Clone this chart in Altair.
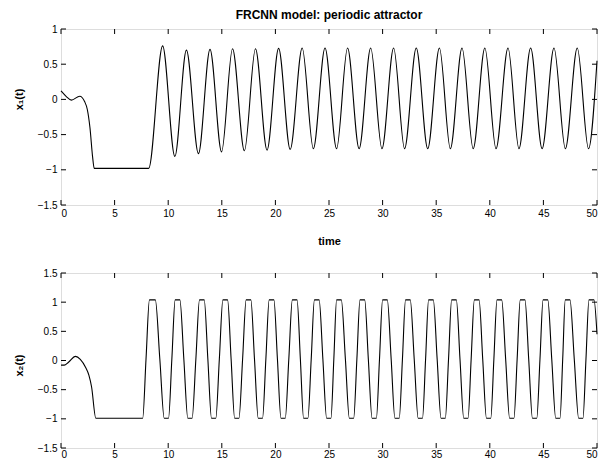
import altair as alt
import pandas as pd

TITLE = "FRCNN model: periodic attractor"
X_LABEL = "time"
Y1_LABEL = "x\u2081(t)"
Y2_LABEL = "x\u2082(t)"

x_ticks = [0, 5, 10, 15, 20, 25, 30, 35, 40, 45, 50]
y1_ticks = [-1.5, -1, -0.5, 0, 0.5, 1]
y2_ticks = [-1.5, -1, -0.5, 0, 0.5, 1, 1.5]

# x1(t): initial transient, flat saturation, then peaks / troughs
t1 = [0, 0.5, 0.97, 1.75, 2.2, 2.45, 2.7, 2.95, 3.1, 8.18,
      9.48, 10.62, 11.70, 12.82, 13.90, 14.98, 16.00, 17.11, 18.14, 19.22,
      20.30, 21.38, 22.50, 23.54, 24.63, 25.71, 26.73, 27.81, 28.89, 29.94,
      31.03, 32.05, 33.14, 34.21, 35.30, 36.32, 37.41, 38.45, 39.54, 40.58,
      41.70, 42.72, 43.81, 44.88, 45.99, 47.05, 48.16, 49.21, 50.0]
x1 = [0.12, 0.04, -0.01, 0.045, -0.03, -0.14, -0.40, -0.82, -0.98, -0.98,
      0.76, -0.81, 0.70, -0.77, 0.71, -0.745, 0.72, -0.73, 0.72, -0.72,
      0.725, -0.71, 0.73, -0.70, 0.73, -0.70, 0.73, -0.70, 0.73, -0.70,
      0.73, -0.70, 0.73, -0.70, 0.73, -0.70, 0.73, -0.70, 0.73, -0.70,
      0.73, -0.70, 0.73, -0.70, 0.73, -0.70, 0.73, -0.70, 0.55]

# x2(t): initial transient and flat saturation
t2_init = [0, 0.3, 0.7, 1.35, 1.8, 2.3, 2.6, 2.85, 3.25, 7.62]
x2_init = [-0.08, -0.08, -0.03, 0.07, 0.02, -0.12, -0.25, -0.45, -0.99, -0.99]
# x2(t): oscillation read as plateau edges and mid crossings
x2_high = 1.04
x2_low = -0.99
x2_mid = 0.02
x2_top_edges = [8.25, 8.80, 10.65, 11.09, 12.92, 13.36, 15.10, 15.54,
                17.27, 17.71, 19.42, 19.86, 21.58, 22.02, 23.64, 24.08,
                25.71, 26.15, 27.89, 28.33, 30.00, 30.44, 32.14, 32.58,
                34.29, 34.73, 36.44, 36.88, 38.56, 39.00, 40.67, 41.11,
                42.84, 43.28, 44.97, 45.41, 47.04, 47.48, 49.25, 49.72]
x2_bottom_edges = [9.63, 10.03, 11.83, 12.23, 14.04, 14.44, 16.20, 16.60,
                   18.40, 18.80, 20.52, 20.92, 22.63, 23.03, 24.78, 25.18,
                   26.90, 27.30, 29.02, 29.42, 31.15, 31.55, 33.32, 33.72,
                   35.45, 35.85, 37.57, 37.97, 39.69, 40.09, 41.85, 42.25,
                   43.98, 44.38, 46.15, 46.55, 48.29, 48.69]
x2_crossings = [7.93, 9.22, 10.34, 11.46, 12.58, 13.70, 14.77, 15.87,
                16.94, 18.05, 19.11, 20.19, 21.25, 22.33, 23.34, 24.43,
                25.45, 26.53, 27.60, 28.67, 29.71, 30.80, 31.85, 32.95,
                34.01, 35.09, 36.15, 37.22, 38.26, 39.34, 40.38, 41.48,
                42.55, 43.63, 44.68, 45.78, 46.80, 47.88, 48.97]
t2_end = [50.0]
x2_end = [0.45]

W = 536
H1 = 176
H2 = 175
TICK = 5
FONT = "Liberation Sans"

df1 = pd.DataFrame({"t": t1, "x": x1})
df2 = pd.concat([
    pd.DataFrame({"t": t2_init, "x": x2_init}),
    pd.DataFrame({"t": x2_top_edges, "x": [x2_high] * len(x2_top_edges)}),
    pd.DataFrame({"t": x2_bottom_edges, "x": [x2_low] * len(x2_bottom_edges)}),
    pd.DataFrame({"t": x2_crossings, "x": [x2_mid] * len(x2_crossings)}),
    pd.DataFrame({"t": t2_end, "x": x2_end}),
]).sort_values("t").reset_index(drop=True)


def panel(df, yticks, ytitle, height, title_y, label_pad, xtitle=None, title=None):
    xs = alt.Scale(domain=[0, 50], nice=False, zero=False)
    ys = alt.Scale(domain=[yticks[0], yticks[-1]], nice=False, zero=False)
    xaxis = alt.Axis(values=x_ticks, format="d", labelPadding=label_pad,
                     titlePadding=17, title=xtitle,
                     grid=False, ticks=False, domain=False)
    yaxis = alt.Axis(values=yticks, format=".1~f", title=ytitle, labelPadding=4,
                     titleAngle=270, titleX=-37, titleY=title_y,
                     titleBaseline="bottom", titleAlign="center",
                     grid=False, ticks=False, domain=False)
    line = alt.Chart(df).mark_line(color="black", strokeWidth=1.1,
                                   interpolate="monotone").encode(
        x=alt.X("t:Q", scale=xs, axis=xaxis),
        y=alt.Y("x:Q", scale=ys, axis=yaxis),
    )
    xt = pd.DataFrame({"v": x_ticks})
    yt = pd.DataFrame({"v": yticks})
    xb = alt.Chart(xt).mark_rule(color="black", strokeWidth=1).encode(
        x=alt.X("v:Q", scale=xs, axis=xaxis),
        y=alt.value(height), y2=alt.value(height - TICK))
    xtp = alt.Chart(xt).mark_rule(color="black", strokeWidth=1).encode(
        x=alt.X("v:Q", scale=xs, axis=xaxis),
        y=alt.value(0), y2=alt.value(TICK))
    yl = alt.Chart(yt).mark_rule(color="black", strokeWidth=1).encode(
        y=alt.Y("v:Q", scale=ys, axis=yaxis),
        x=alt.value(0), x2=alt.value(TICK))
    yr = alt.Chart(yt).mark_rule(color="black", strokeWidth=1).encode(
        y=alt.Y("v:Q", scale=ys, axis=yaxis),
        x=alt.value(W - TICK), x2=alt.value(W))
    ch = alt.layer(line, xb, xtp, yl, yr).properties(width=W, height=height)
    if title is not None:
        ch = ch.properties(title=alt.TitleParams(
            title, fontSize=12, fontWeight="bold", font=FONT,
            anchor="middle", offset=2, color="black"))
    return ch


top = panel(df1, y1_ticks, Y1_LABEL, H1, 70, 3, xtitle=X_LABEL, title=TITLE)
bottom = panel(df2, y2_ticks, Y2_LABEL, H2, 92, 1)

chart = alt.vconcat(top, bottom, spacing=68, bounds="flush").properties(
    padding={"left": 4, "top": 0, "right": 0, "bottom": 0}
).configure_view(
    stroke="black", strokeWidth=1
).configure_axis(
    labelFont=FONT, labelFontSize=12, labelColor="black",
    titleFont=FONT, titleFontSize=11, titleFontWeight="bold", titleColor="black"
).configure(font=FONT)

chart.save("out.html", embed_options={"renderer": "svg", "actions": False})
